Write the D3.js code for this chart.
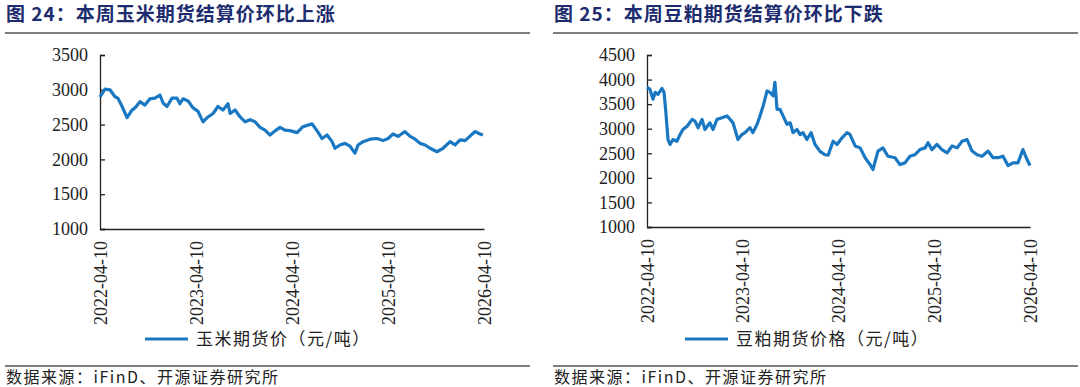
<!DOCTYPE html>
<html>
<head>
<meta charset="utf-8">
<style>
  body { margin: 0; background: #fff; }
  .tick text { font-family: "Liberation Serif", "Times New Roman", serif; font-size: 18px; fill: #222; }
  .cjk { font-family: "Noto Sans CJK SC", sans-serif; }
</style>
</head>
<body>
<svg id="chart" width="1080" height="387"></svg>
<script src="https://d3js.org/d3.v7.min.js"></script>
<script>
// corn futures settlement price (yuan/ton)
const cornDates = ["2022-04-10","2022-04-29","2022-05-18","2022-06-06","2022-06-17","2022-07-03","2022-07-22","2022-08-10","2022-08-21","2022-09-09","2022-09-28","2022-10-17","2022-11-05","2022-11-24","2022-12-06","2022-12-21","2023-01-09","2023-01-28","2023-02-08","2023-02-20","2023-03-11","2023-03-30","2023-04-18","2023-05-07","2023-05-26","2023-06-14","2023-07-03","2023-07-22","2023-08-10","2023-08-18","2023-09-06","2023-09-25","2023-10-14","2023-11-02","2023-11-21","2023-12-10","2023-12-29","2024-01-17","2024-02-05","2024-02-24","2024-03-14","2024-04-02","2024-04-29","2024-05-21","2024-06-25","2024-07-14","2024-08-02","2024-08-21","2024-09-09","2024-09-20","2024-10-09","2024-10-28","2024-11-16","2024-12-05","2024-12-17","2025-01-05","2025-01-31","2025-02-27","2025-03-22","2025-04-10","2025-04-29","2025-05-18","2025-06-13","2025-07-03","2025-07-22","2025-08-10","2025-08-29","2025-09-17","2025-10-13","2025-11-05","2025-12-02","2025-12-21","2026-01-09","2026-01-28","2026-02-16","2026-03-07","2026-03-26","2026-04-06"];
const cornValues = [2900,3010,3000,2900,2880,2760,2600,2710,2740,2830,2780,2870,2880,2925,2810,2760,2880,2880,2800,2870,2840,2740,2690,2540,2610,2660,2760,2710,2800,2660,2710,2610,2540,2570,2540,2460,2420,2350,2410,2460,2420,2413,2385,2470,2510,2410,2300,2350,2255,2160,2207,2230,2190,2090,2207,2255,2290,2300,2270,2300,2365,2330,2400,2330,2290,2230,2207,2160,2110,2160,2255,2207,2280,2270,2335,2400,2365,2350];

// soybean meal futures settlement price (yuan/ton)
const mealDates = ["2022-04-10","2022-04-21","2022-05-03","2022-05-11","2022-05-22","2022-06-06","2022-06-14","2022-06-21","2022-06-29","2022-07-07","2022-07-18","2022-08-02","2022-08-14","2022-08-25","2022-09-10","2022-09-29","2022-10-10","2022-10-22","2022-11-06","2022-11-17","2022-12-06","2022-12-18","2023-01-02","2023-01-21","2023-02-09","2023-02-21","2023-03-04","2023-03-23","2023-04-07","2023-04-19","2023-05-08","2023-05-19","2023-06-04","2023-06-15","2023-06-27","2023-07-12","2023-07-23","2023-08-04","2023-08-11","2023-08-19","2023-08-30","2023-09-11","2023-09-26","2023-10-08","2023-10-19","2023-11-03","2023-11-15","2023-11-26","2023-12-11","2023-12-27","2024-01-11","2024-01-30","2024-02-18","2024-03-01","2024-03-20","2024-04-04","2024-04-23","2024-05-12","2024-05-23","2024-06-12","2024-07-01","2024-07-20","2024-08-08","2024-08-19","2024-09-07","2024-09-26","2024-10-15","2024-11-11","2024-11-30","2024-12-19","2025-01-07","2025-01-26","2025-02-14","2025-03-06","2025-03-17","2025-04-01","2025-04-20","2025-05-09","2025-05-29","2025-06-17","2025-07-06","2025-07-25","2025-08-13","2025-09-01","2025-09-20","2025-10-09","2025-11-01","2025-11-20","2025-12-09","2025-12-28","2026-01-16","2026-02-04","2026-02-23","2026-03-14","2026-03-30","2026-04-10"];
const mealValues = [3840,3805,3600,3740,3700,3820,3740,3330,2780,2680,2780,2745,2880,2985,3050,3190,3155,3020,3190,2985,3120,2985,3190,3225,3260,3190,3120,2780,2880,2920,3020,2920,3090,3260,3460,3770,3740,3670,3945,3395,3395,3260,3090,3120,2920,2985,2880,2920,2780,2920,2680,2540,2470,2460,2745,2680,2815,2920,2885,2650,2610,2410,2270,2170,2545,2610,2440,2410,2270,2305,2440,2470,2575,2610,2715,2575,2680,2575,2510,2650,2610,2745,2780,2545,2470,2440,2545,2410,2410,2440,2250,2305,2305,2575,2370,2250];

const cornTicks = [1000, 1500, 2000, 2500, 3000, 3500];
const mealTicks = [1000, 1500, 2000, 2500, 3000, 3500, 4000, 4500];
const dateTicks = ["2022-04-10", "2023-04-10", "2024-04-10", "2025-04-10", "2026-04-10"];

const svg = d3.select("#chart");
const parse = d3.timeParse("%Y-%m-%d");
const lineColor = "#1a78c2";

function drawPanel(o) {
  const g = svg.append("g");

  // title + rule
  g.append("text")
    .attr("class", "cjk")
    .attr("x", o.left + 1)
    .attr("y", 21)
    .attr("fill", "#1c2c6e")
    .style("font-size", "19px")
    .style("font-weight", "bold")
    .style("letter-spacing", "1px")
    .text(o.title);
  g.append("line")
    .attr("x1", o.left).attr("x2", o.right)
    .attr("y1", 33).attr("y2", 33)
    .attr("stroke", "#555").attr("stroke-width", 1.5);

  const x = d3.scaleTime()
    .domain([parse(dateTicks[0]), parse(dateTicks[dateTicks.length - 1])])
    .range([o.x0, o.x1]);
  const y = d3.scaleLinear()
    .domain([o.ticks[0], o.ticks[o.ticks.length - 1]])
    .range([o.y0, o.y1]);

  // y axis
  const ya = g.append("g")
    .attr("transform", "translate(" + o.x0 + ",0)")
    .call(d3.axisLeft(y).tickValues(o.ticks).tickSize(-5).tickPadding(12).tickFormat(d3.format("d")));
  ya.select(".domain").attr("stroke", "#222").attr("stroke-width", 1.3);
  ya.selectAll(".tick line").attr("stroke", "#222").attr("stroke-width", 1.3);

  // x axis
  const xa = g.append("g")
    .attr("transform", "translate(0," + o.y0 + ")")
    .call(d3.axisBottom(x).tickValues(dateTicks.map(parse)).tickSize(0).tickFormat(d3.timeFormat("%Y-%m-%d")));
  xa.select(".domain").attr("stroke", "#222").attr("stroke-width", 1.5);
  xa.selectAll("text")
    .attr("transform", "rotate(-90)")
    .attr("x", -12)
    .attr("y", 0)
    .attr("dy", "0.35em")
    .style("text-anchor", "end");

  // series
  const data = o.dates.map((d, i) => ({ date: parse(d), value: o.values[i] }));
  g.append("path")
    .datum(data)
    .attr("fill", "none")
    .attr("stroke", lineColor)
    .attr("stroke-width", 3.2)
    .attr("stroke-linejoin", "round")
    .attr("d", d3.line().x(d => x(d.date)).y(d => y(d.value)));

  // legend
  g.append("line")
    .attr("x1", o.legendX).attr("x2", o.legendX + 43)
    .attr("y1", 339).attr("y2", 339)
    .attr("stroke", lineColor).attr("stroke-width", 3);
  g.append("text")
    .attr("class", "cjk")
    .attr("x", o.legendX + 51)
    .attr("y", 345)
    .attr("fill", "#222")
    .style("font-size", "17px")
    .style("letter-spacing", "1.5px")
    .text(o.legend);

  // source
  g.append("line")
    .attr("x1", o.left).attr("x2", o.right)
    .attr("y1", 366).attr("y2", 366)
    .attr("stroke", "#555").attr("stroke-width", 1.5);
  g.append("text")
    .attr("class", "cjk")
    .attr("x", o.left + 1)
    .attr("y", 383)
    .attr("fill", "#222")
    .style("font-size", "16px")
    .style("letter-spacing", "1.5px")
    .text("数据来源：iFinD、开源证券研究所");
}

drawPanel({
  title: "图 24：本周玉米期货结算价环比上涨",
  legend: "玉米期货价（元/吨）",
  left: 5, right: 530,
  x0: 100, x1: 484, y0: 229, y1: 55,
  ticks: cornTicks, dates: cornDates, values: cornValues,
  legendX: 145
});

drawPanel({
  title: "图 25：本周豆粕期货结算价环比下跌",
  legend: "豆粕期货价格（元/吨）",
  left: 553, right: 1078,
  x0: 647, x1: 1030, y0: 227, y1: 55,
  ticks: mealTicks, dates: mealDates, values: mealValues,
  legendX: 685
});
</script>
</body>
</html>
